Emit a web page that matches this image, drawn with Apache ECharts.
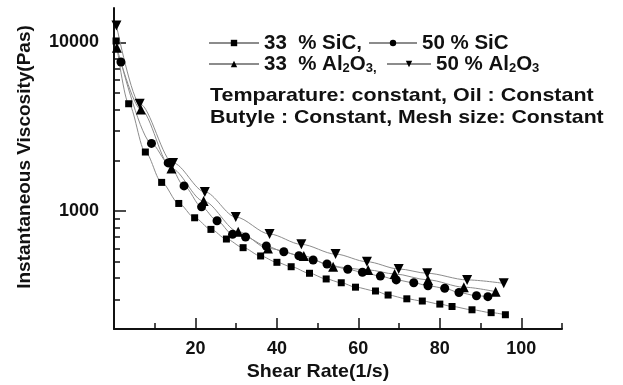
<!DOCTYPE html>
<html>
<head>
<meta charset="utf-8">
<script src="https://cdn.jsdelivr.net/npm/echarts@6/dist/echarts.min.js"></script>
<style>
  html, body { margin: 0; padding: 0; background: #ffffff; }
  #chart { width: 623px; height: 385px; }
</style>
</head>
<body>
<div id="chart"></div>
<script>
// Shear rate (1/s) and instantaneous viscosity (Pas) for each filler mix
const sic33X = [0.5, 3.6, 7.7, 11.7, 15.9, 19.8, 23.8, 27.6, 31.7, 36.0, 40.0, 43.5, 48.0, 52.1, 55.8, 59.3, 64.2, 67.3, 71.9, 75.7, 80.0, 83.0, 87.9, 92.6, 96.1];
const sic33Y = [10200, 4330, 2240, 1480, 1110, 913, 779, 683, 607, 542, 497, 468, 428, 396, 376, 354, 336, 318, 302, 293, 281, 272, 260, 250, 243];

const sic50X = [1.7, 9.2, 13.3, 17.2, 21.5, 25.3, 29.1, 32.3, 37.4, 41.7, 45.4, 48.9, 52.3, 57.4, 61.0, 65.4, 69.3, 73.6, 77.1, 81.2, 84.7, 89.0, 91.8];
const sic50Y = [7650, 2520, 1930, 1410, 1060, 877, 728, 702, 621, 574, 544, 513, 486, 452, 434, 412, 391, 376, 361, 349, 329, 315, 311];

const al33X = [0.7, 6.6, 14.1, 22.0, 30.5, 37.8, 46.6, 53.8, 62.4, 68.9, 77.1, 85.9, 93.7];
const al33Y = [9300, 4000, 1790, 1146, 755, 601, 542, 468, 448, 424, 391, 354, 333];

const al50X = [0.6, 6.3, 14.5, 22.3, 29.9, 38.2, 46.0, 54.4, 62.1, 69.9, 76.9, 86.7, 95.7];
const al50Y = [12600, 4330, 1930, 1300, 922, 731, 635, 556, 501, 454, 428, 391, 373];

const seriesNames = ['33  % SiC,', '50 % SiC', '33  % Al2O3,', '50 % Al2O3'];
const legendLabels = ['33  % SiC,', '50 % SiC', '33  % Al{s|2}O{s|3,}', '50 % Al{s|2}O{s|3}'];

const xMajorTicks = [20, 40, 60, 80, 100];
const xMinorTicks = [10, 30, 50, 70, 90, 110];
const yMajorTicks = [1000, 10000];
const yMinorTicks = [300, 400, 500, 600, 700, 800, 900, 2000, 3000, 4000, 5000, 6000, 7000, 8000, 9000];

const noteLines = ['Temparature: constant, Oil : Constant', 'Butyle : Constant, Mesh size: Constant'];
const xTitle = 'Shear Rate(1/s)';
const yTitle = 'Instantaneous Viscosity(Pas)';

const FONT = "'Liberation Sans', Arial, Helvetica, sans-serif";
const INK = '#111111';

function pairs(xs, ys) { return xs.map((x, i) => [x, ys[i]]); }

function lineSeries(name, xs, ys, symbol, size, rotate) {
  return {
    name: name,
    type: 'line',
    xAxisIndex: 0,
    yAxisIndex: 0,
    data: pairs(xs, ys),
    smooth: 0.3,
    smoothMonotone: 'x',
    symbol: symbol,
    symbolSize: size,
    symbolRotate: rotate || 0,
    showSymbol: true,
    lineStyle: { color: '#8c8c8c', width: 1 },
    itemStyle: { color: '#000000', borderWidth: 0 },
    emphasis: { disabled: true },
    z: 3
  };
}

// legend entry placement: [left, top, icon width]
const legendPos = [[208, 32, 50], [368, 32, 48], [208, 53, 50], [386, 53, 44]];

const chart = echarts.init(document.getElementById('chart'), null, { renderer: 'canvas' });

chart.setOption({
  animation: false,
  backgroundColor: '#ffffff',
  textStyle: { fontFamily: FONT },
  grid: { left: 114, right: 61, top: 8, bottom: 56, containLabel: false },
  legend: seriesNames.map((n, i) => ({
    data: [n],
    left: legendPos[i][0],
    top: legendPos[i][1],
    padding: 0,
    itemGap: 0,
    itemWidth: legendPos[i][2],
    itemHeight: 8,
    selectedMode: false,
    formatter: () => legendLabels[i],
    textStyle: {
      fontFamily: FONT, fontSize: 20.5, fontWeight: 'bold', color: INK,
      lineHeight: 22,
      rich: {
        s: { fontFamily: FONT, fontSize: 13, fontWeight: 'bold', color: INK, lineHeight: 12, verticalAlign: 'bottom' }
      }
    }
  })),
  xAxis: [
    {
      type: 'value', min: 0, max: 110, position: 'bottom',
      axisLine: { show: true, lineStyle: { color: INK, width: 2 } },
      axisTick: { show: true, inside: true, length: 11, customValues: xMajorTicks, lineStyle: { color: INK, width: 1.5 } },
      axisLabel: { show: true, customValues: xMajorTicks, margin: 11, fontFamily: FONT, fontSize: 18, fontWeight: 'bold', color: INK },
      splitLine: { show: false }
    },
    {
      type: 'value', min: 0, max: 110, position: 'bottom',
      axisLine: { show: false },
      axisTick: { show: true, inside: true, length: 6, customValues: xMinorTicks, lineStyle: { color: INK, width: 1.5 } },
      axisLabel: { show: false },
      splitLine: { show: false }
    }
  ],
  yAxis: [
    {
      type: 'log', logBase: 10, min: 200, max: 16000, position: 'left',
      axisLine: { show: true, lineStyle: { color: INK, width: 2 } },
      axisTick: { show: true, inside: true, length: 12, customValues: yMajorTicks, lineStyle: { color: INK, width: 1.5 } },
      axisLabel: {
        show: true, customValues: yMajorTicks, margin: 15,
        formatter: v => String(Math.round(v)),
        fontFamily: FONT, fontSize: 18, fontWeight: 'bold', color: INK
      },
      splitLine: { show: false },
      minorTick: { show: false }
    },
    {
      type: 'log', logBase: 10, min: 200, max: 16000, position: 'left',
      axisLine: { show: false },
      axisTick: { show: true, inside: true, length: 6, customValues: yMinorTicks, lineStyle: { color: INK, width: 1.5 } },
      axisLabel: { show: false },
      splitLine: { show: false }
    }
  ],
  graphic: [
    {
      type: 'text', x: 25, y: 157, rotation: Math.PI / 2,
      style: { text: yTitle, fontFamily: FONT, fontSize: 19, fontWeight: 'bold', fill: INK, align: 'center', verticalAlign: 'middle' }
    },
    {
      type: 'text', x: 318, y: 372, scaleX: 1.03,
      style: { text: xTitle, fontFamily: FONT, fontSize: 19, fontWeight: 'bold', fill: INK, align: 'center', verticalAlign: 'middle' }
    },
    {
      type: 'text', x: 210, y: 96, scaleX: 1.13,
      style: { text: noteLines[0], fontFamily: FONT, fontSize: 19, fontWeight: 'bold', fill: INK, align: 'left', verticalAlign: 'middle' }
    },
    {
      type: 'text', x: 210, y: 118, scaleX: 1.12,
      style: { text: noteLines[1], fontFamily: FONT, fontSize: 19, fontWeight: 'bold', fill: INK, align: 'left', verticalAlign: 'middle' }
    }
  ],
  series: [
    lineSeries(seriesNames[0], sic33X, sic33Y, 'rect', 7, 0),
    lineSeries(seriesNames[1], sic50X, sic50Y, 'circle', 9, 0),
    lineSeries(seriesNames[2], al33X, al33Y, 'triangle', 10, 0),
    lineSeries(seriesNames[3], al50X, al50Y, 'triangle', 10, 180)
  ]
});
</script>
</body>
</html>
